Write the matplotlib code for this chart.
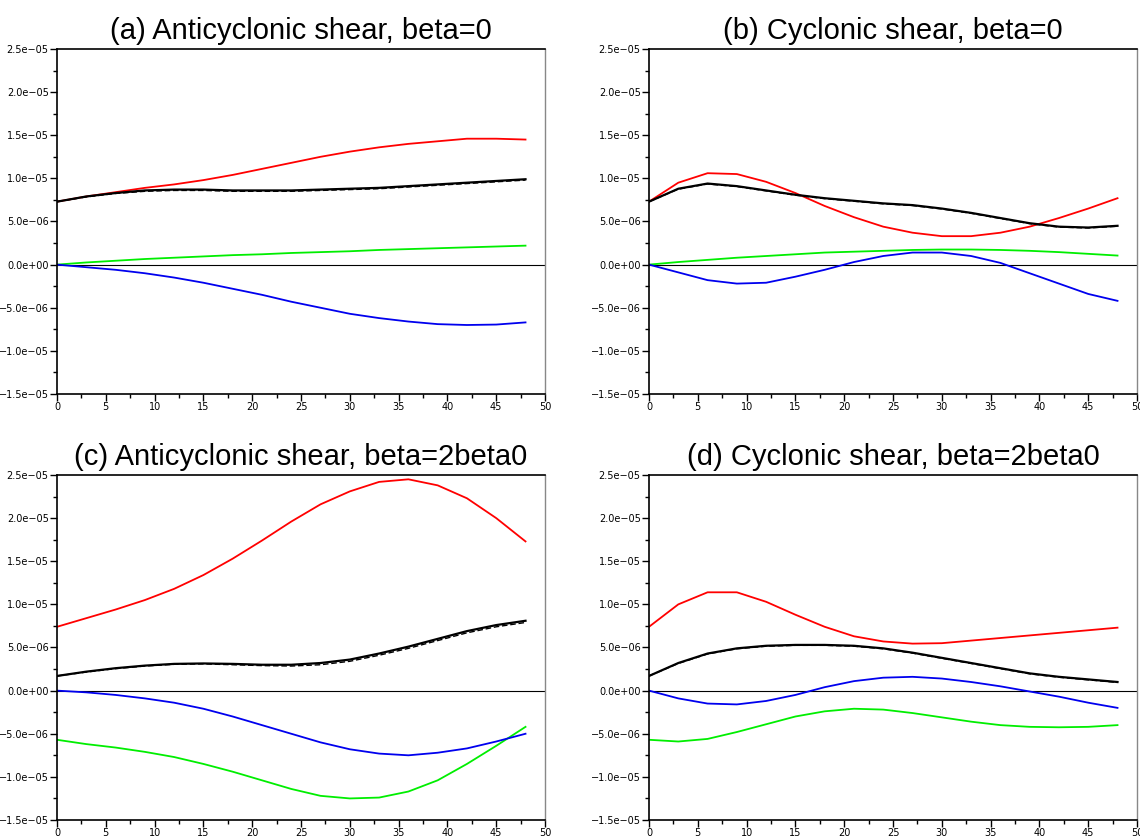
import numpy as np
import matplotlib.pyplot as plt
from matplotlib.ticker import MultipleLocator, FuncFormatter

# time axis (days)
x = [0, 3, 6, 9, 12, 15, 18, 21, 24, 27, 30, 33, 36, 39, 42, 45, 48]

titles = ["(a) Anticyclonic shear, beta=0",
          "(b) Cyclonic shear, beta=0",
          "(c) Anticyclonic shear, beta=2beta0",
          "(d) Cyclonic shear, beta=2beta0"]

# values in units of 1e-6
red_a = [7.3, 7.9, 8.4, 8.9, 9.3, 9.8, 10.4, 11.1, 11.8, 12.5, 13.1, 13.6, 14.0, 14.3, 14.6, 14.6, 14.5]
black_a = [7.3, 7.9, 8.3, 8.6, 8.7, 8.7, 8.6, 8.6, 8.6, 8.7, 8.8, 8.9, 9.1, 9.3, 9.5, 9.7, 9.9]
dash_a = [7.3, 7.85, 8.25, 8.5, 8.6, 8.6, 8.5, 8.5, 8.5, 8.6, 8.7, 8.8, 9.0, 9.2, 9.4, 9.6, 9.8]
green_a = [0, 0.25, 0.45, 0.65, 0.8, 0.95, 1.1, 1.2, 1.35, 1.45, 1.55, 1.7, 1.8, 1.9, 2.0, 2.1, 2.2]
blue_a = [0, -0.3, -0.6, -1.0, -1.5, -2.1, -2.8, -3.5, -4.3, -5.0, -5.7, -6.2, -6.6, -6.9, -7.0, -6.95, -6.7]

red_b = [7.3, 9.5, 10.6, 10.5, 9.6, 8.3, 6.8, 5.5, 4.4, 3.7, 3.3, 3.3, 3.7, 4.4, 5.4, 6.5, 7.7]
black_b = [7.3, 8.8, 9.4, 9.1, 8.6, 8.1, 7.7, 7.4, 7.1, 6.9, 6.5, 6.0, 5.4, 4.8, 4.4, 4.3, 4.5]
dash_b = [7.3, 8.75, 9.35, 9.05, 8.55, 8.05, 7.65, 7.35, 7.05, 6.85, 6.45, 5.95, 5.35, 4.75, 4.35, 4.25, 4.45]
green_b = [0, 0.3, 0.55, 0.8, 1.0, 1.2, 1.4, 1.5, 1.6, 1.7, 1.75, 1.75, 1.7, 1.6, 1.45, 1.25, 1.05]
blue_b = [0, -0.9, -1.8, -2.2, -2.1, -1.4, -0.6, 0.3, 1.0, 1.4, 1.4, 1.0, 0.2, -1.0, -2.2, -3.4, -4.2]

red_c = [7.4, 8.4, 9.4, 10.5, 11.8, 13.4, 15.3, 17.4, 19.6, 21.6, 23.1, 24.2, 24.5, 23.8, 22.3, 20.0, 17.3]
black_c = [1.7, 2.2, 2.6, 2.9, 3.1, 3.15, 3.1, 3.0, 3.0, 3.2, 3.6, 4.3, 5.1, 6.0, 6.9, 7.6, 8.1]
dash_c = [1.7, 2.15, 2.55, 2.85, 3.05, 3.1, 3.0, 2.9, 2.85, 3.0, 3.4, 4.1, 4.9, 5.8, 6.7, 7.4, 7.9]
green_c = [-5.7, -6.2, -6.6, -7.1, -7.7, -8.5, -9.4, -10.4, -11.4, -12.2, -12.5, -12.4, -11.7, -10.4, -8.5, -6.4, -4.2]
blue_c = [0, -0.2, -0.5, -0.9, -1.4, -2.1, -3.0, -4.0, -5.0, -6.0, -6.8, -7.3, -7.5, -7.2, -6.7, -5.9, -5.0]

red_d = [7.4, 10.0, 11.4, 11.4, 10.3, 8.8, 7.4, 6.3, 5.7, 5.45, 5.5, 5.8, 6.1, 6.4, 6.7, 7.0, 7.3]
black_d = [1.7, 3.2, 4.3, 4.9, 5.2, 5.3, 5.3, 5.2, 4.9, 4.4, 3.8, 3.2, 2.6, 2.0, 1.6, 1.3, 1.0]
dash_d = [1.7, 3.15, 4.25, 4.85, 5.15, 5.25, 5.25, 5.15, 4.85, 4.35, 3.75, 3.15, 2.55, 1.95, 1.55, 1.25, 0.95]
green_d = [-5.7, -5.9, -5.6, -4.8, -3.9, -3.0, -2.4, -2.1, -2.2, -2.6, -3.1, -3.6, -4.0, -4.2, -4.25, -4.2, -4.0]
blue_d = [0, -0.9, -1.5, -1.6, -1.2, -0.5, 0.4, 1.1, 1.5, 1.6, 1.4, 1.0, 0.5, -0.1, -0.7, -1.4, -2.0]

panels = [
    (red_a, black_a, dash_a, green_a, blue_a),
    (red_b, black_b, dash_b, green_b, blue_b),
    (red_c, black_c, dash_c, green_c, blue_c),
    (red_d, black_d, dash_d, green_d, blue_d),
]


def sci_label(v, pos):
    # e-notation with a proper minus sign
    return ('%.1e' % v).replace('-', '\u2212')


fig = plt.figure(figsize=(11.4, 8.39), dpi=100)
positions = [
    [0.050, 0.5304, 0.4281, 0.4112],
    [0.5693, 0.5304, 0.4281, 0.4112],
    [0.050, 0.02265, 0.4281, 0.4112],
    [0.5693, 0.02265, 0.4281, 0.4112],
]

for pos, title, (red, black, dash, green, blue) in zip(positions, titles, panels):
    ax = fig.add_axes(pos)
    s = 1e-6
    ax.axhline(0, color='black', lw=0.8, zorder=1)
    ax.plot(x, np.array(red) * s, color='#ff0000', lw=1.3)
    ax.plot(x, np.array(green) * s, color='#00ee00', lw=1.3)
    ax.plot(x, np.array(blue) * s, color='#0000ee', lw=1.3)
    ax.plot(x, np.array(black) * s, color='black', lw=1.6)
    ax.plot(x, np.array(dash) * s, color='black', lw=1.0, ls=(0, (4, 2)))

    ax.set_xlim(0, 50)
    ax.set_ylim(-1.5e-5, 2.5e-5)
    ax.xaxis.set_major_locator(MultipleLocator(5))
    ax.xaxis.set_minor_locator(MultipleLocator(2.5))
    ax.yaxis.set_major_locator(MultipleLocator(5e-6))
    ax.yaxis.set_minor_locator(MultipleLocator(2.5e-6))
    ax.yaxis.set_major_formatter(FuncFormatter(sci_label))
    ax.tick_params(which='major', length=5, width=1, labelsize=7, pad=1)
    ax.tick_params(which='minor', length=3, width=1)
    for side in ('left', 'bottom', 'top'):
        ax.spines[side].set_linewidth(1.2)
    ax.spines['right'].set_color('#888888')
    ax.spines['right'].set_linewidth(1.0)
    ax.set_title(title, fontsize=21, family='Liberation Sans', pad=7)

fig.savefig('out.png', dpi=100)
